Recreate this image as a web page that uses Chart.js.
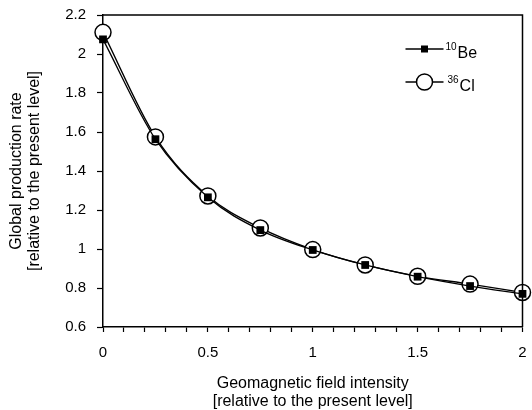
<!DOCTYPE html>
<html>
<head>
<meta charset="utf-8">
<script src="https://cdn.jsdelivr.net/npm/chart.js@4/dist/chart.umd.min.js"></script>
<style>
  html, body { margin: 0; padding: 0; background: #fff; }
  canvas { display: block; }
</style>
</head>
<body>
<canvas id="chProd" width="532" height="410"></canvas>
<script>
/* Global production rate vs geomagnetic field intensity (10Be / 36Cl) */

const fieldIntensity = [0, 0.25, 0.5, 0.75, 1, 1.25, 1.5, 1.75, 2];
const be10Rate = [2.075, 1.563, 1.265, 1.097, 0.995, 0.918, 0.858, 0.81, 0.77];
const cl36Rate = [2.111, 1.575, 1.272, 1.108, 0.997, 0.918, 0.86, 0.82, 0.777];
const isotopes = ['10Be', '36Cl'];
const xTitle = ['Geomagnetic field intensity', '[relative to the present level]'];
const yTitle = ['Global production rate', '[relative to the present level]'];

const FONT = "'Liberation Sans', Arial, Helvetica, sans-serif";
const toXY = ys => fieldIntensity.map((x, i) => ({ x, y: ys[i] }));
const fmtTick = v => String(+v.toFixed(1));

// frame (top + right) and in-plot legend with superscript mass numbers
const framePlugin = {
  id: 'frame',
  afterDatasetsDraw(chart) {
    const { ctx, chartArea: a } = chart;
    ctx.save();
    ctx.strokeStyle = '#000';
    ctx.lineWidth = 1.5;
    ctx.beginPath();
    ctx.moveTo(a.left, a.top);
    ctx.lineTo(a.right, a.top);
    ctx.lineTo(a.right, a.bottom);
    ctx.stroke();
    ctx.restore();
  },
  afterDraw(chart) {
    const { ctx, chartArea: a } = chart;
    const rows = [a.top + 34, a.top + 67];
    ctx.save();
    chart.data.datasets.forEach((ds, i) => {
      const y = rows[i];
      ctx.strokeStyle = '#000';
      ctx.lineWidth = 1.3;
      ctx.beginPath();
      ctx.moveTo(a.right - 117, y);
      ctx.lineTo(a.right - 79, y);
      ctx.stroke();
      const mx = a.right - 98;
      ctx.lineWidth = 1.5;
      if (ds.pointStyle === 'rect') {
        ctx.fillStyle = '#000';
        ctx.fillRect(mx - 3.5, y - 3.5, 7, 7);
      } else {
        ctx.fillStyle = '#fff';
        ctx.beginPath();
        ctx.arc(mx, y, 8, 0, Math.PI * 2);
        ctx.fill();
        ctx.stroke();
      }
      const m = ds.label.match(/^(\d+)(.*)$/);
      let tx = a.right - 77 + (i ? 2 : 0);
      ctx.fillStyle = '#000';
      ctx.textBaseline = 'alphabetic';
      ctx.textAlign = 'left';
      ctx.font = '10px ' + FONT;
      ctx.fillText(m[1], tx, y + 1);
      tx += ctx.measureText(m[1]).width + 1;
      ctx.font = '16px ' + FONT;
      ctx.fillText(m[2], tx, y + 9);
    });
    ctx.restore();
  }
};

new Chart(document.getElementById('chProd'), {
  type: 'line',
  data: {
    datasets: [
      {
        label: isotopes[0], data: toXY(be10Rate),
        borderColor: '#000', borderWidth: 1.3,
        pointStyle: 'rect', pointRadius: 5.5, pointBackgroundColor: '#000', pointBorderColor: '#000', pointBorderWidth: 0,
        cubicInterpolationMode: 'monotone', clip: false, order: 0
      },
      {
        label: isotopes[1], data: toXY(cl36Rate),
        borderColor: '#000', borderWidth: 1.3,
        pointStyle: 'circle', pointRadius: 8, pointBackgroundColor: '#fff', pointBorderColor: '#000', pointBorderWidth: 1.5,
        cubicInterpolationMode: 'monotone', clip: false, order: 1
      }
    ]
  },
  options: {
    responsive: false,
    devicePixelRatio: 1,
    animation: false,
    events: [],
    layout: { padding: { left: 0, right: 3, top: 15, bottom: 0 } },
    plugins: { legend: { display: false }, tooltip: { enabled: false } },
    scales: {
      x: {
        type: 'linear', min: 0, max: 2,
        ticks: {
          stepSize: 0.1, color: '#000', padding: 12, maxRotation: 0, autoSkip: false,
          font: { family: FONT, size: 15 },
          callback: v => (Math.abs(v * 2 - Math.round(v * 2)) < 1e-6 ? fmtTick(v) : '')
        },
        grid: { drawOnChartArea: false, drawTicks: true, tickLength: 5, color: '#000', tickWidth: 1.2 },
        border: { display: true, color: '#000', width: 1.5 },
        title: { display: true, text: xTitle, color: '#000', padding: { top: 0, bottom: 0 }, font: { family: FONT, size: 16, lineHeight: 1.1 } },
        afterFit(s) { s.height = 83; s.paddingLeft = 0; s.paddingRight = 0; }
      },
      y: {
        min: 0.6, max: 2.2,
        ticks: { stepSize: 0.2, color: '#000', padding: 11, font: { family: FONT, size: 15 }, callback: fmtTick },
        grid: { drawOnChartArea: false, drawTicks: true, tickLength: 6, color: '#000', tickWidth: 1.2 },
        border: { display: true, color: '#000', width: 1.5 },
        title: { display: true, text: yTitle, color: '#000', padding: { top: 8, bottom: 0 }, font: { family: FONT, size: 16, lineHeight: 1.1 } },
        afterFit(s) { s.width = 103; s.paddingTop = 0; s.paddingBottom = 0; }
      }
    }
  },
  plugins: [framePlugin]
});
</script>
</body>
</html>
